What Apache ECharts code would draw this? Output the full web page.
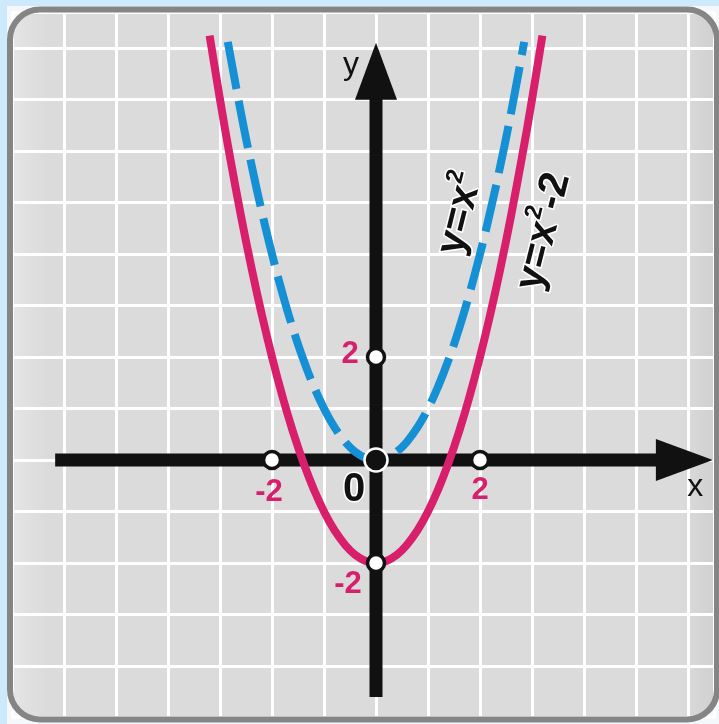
<!DOCTYPE html>
<html>
<head>
<meta charset="utf-8">
<script src="https://cdn.jsdelivr.net/npm/echarts@6/dist/echarts.min.js"></script>
<style>
  html, body { margin: 0; padding: 0; background: #cdeafc; }
  #chart { width: 719px; height: 724px; }
</style>
</head>
<body>
<div id="chart"></div>
<script>
// y = x^2 (dashed blue)
var blueX = [-2.85, -2.6, -2.4, -2.2, -2.0, -1.8, -1.6, -1.4, -1.2, -1.0, -0.8, -0.6, -0.4, -0.2, 0,
             0.2, 0.4, 0.6, 0.8, 1.0, 1.2, 1.4, 1.6, 1.8, 2.0, 2.2, 2.4, 2.6, 2.85];
var blueY = [8.12, 6.76, 5.76, 4.84, 4.0, 3.24, 2.56, 1.96, 1.44, 1.0, 0.64, 0.36, 0.16, 0.04, 0,
             0.04, 0.16, 0.36, 0.64, 1.0, 1.44, 1.96, 2.56, 3.24, 4.0, 4.84, 5.76, 6.76, 8.12];
// y = x^2 - 2 (solid magenta)
var pinkX = [-3.2, -3.0, -2.8, -2.6, -2.4, -2.2, -2.0, -1.8, -1.6, -1.4, -1.2, -1.0, -0.8, -0.6, -0.4, -0.2, 0,
             0.2, 0.4, 0.6, 0.8, 1.0, 1.2, 1.4, 1.6, 1.8, 2.0, 2.2, 2.4, 2.6, 2.8, 3.0, 3.2];
var pinkY = [8.24, 7.0, 5.84, 4.76, 3.76, 2.84, 2.0, 1.24, 0.56, -0.04, -0.56, -1.0, -1.36, -1.64, -1.84, -1.96, -2,
             -1.96, -1.84, -1.64, -1.36, -1.0, -0.56, -0.04, 0.56, 1.24, 2.0, 2.84, 3.76, 4.76, 5.84, 7.0, 8.24];

// axes (drawn as thick lines with arrow heads)
var xAxisEnds = [-6.17, 5.9];
var yAxisEnds = [-4.6, 7.6];
var arrowX = [5.93, 0];
var arrowY = [0, 7.55];

// tick marks on the axes
var tickPoints = [[-2, 0], [2, 0], [0, 2], [0, -2]];
var tickTexts = ['-2', '2', '2', '-2'];
var originText = '0';
var axisNames = ['x', 'y'];
var curveNames = ['y=x\u00B2', 'y=x\u00B2-2'];
var curveRich = ['{b|y=x}{s|2}', '{b|y=x}{s|2}{b|-2}'];
var curveLabelAt = [[1.58, 4.8], [3.18, 4.45]];

var BLUE = '#1590d4';
var PINK = '#d81f6c';

function zip(a, b) {
  return a.map(function (v, i) { return [v, b[i]]; });
}

var chart = echarts.init(document.getElementById('chart'));

var tickOffsets = [[-3, 32], [0, 30], [-26, -3], [-28, 21]];

var option = {
  backgroundColor: '#cdeafc',
  animation: false,
  graphic: [
    { type: 'rect', z: -30, shape: { x: 7, y: 6, width: 720, height: 720 }, style: { fill: '#f4f8fa' } },
    { type: 'rect', z: -20, shape: { x: 10, y: 9.5, width: 707, height: 710, r: 30 },
      style: { fill: new echarts.graphic.LinearGradient(0, 0, 1, 0, [
        { offset: 0, color: '#e6e6e6' }, { offset: 0.05, color: '#dbdbdb' },
        { offset: 0.95, color: '#dbdbdb' }, { offset: 1, color: '#cfcfcf' }]) } },
    { type: 'rect', z: 100, silent: true, shape: { x: 10, y: 9.5, width: 707, height: 710, r: 30 },
      style: { fill: 'none', stroke: '#858585', lineWidth: 6 } }
  ],
  grid: { left: 12, top: 12, width: 702, height: 705.5 },
  xAxis: {
    type: 'value', min: -7, max: 6.5, interval: 1,
    axisLine: { show: false }, axisTick: { show: false }, axisLabel: { show: false },
    splitLine: { lineStyle: { color: '#ffffff', width: 3 } }
  },
  yAxis: {
    type: 'value', min: -5, max: 8.7, interval: 1,
    axisLine: { show: false }, axisTick: { show: false }, axisLabel: { show: false },
    splitLine: { lineStyle: { color: '#ffffff', width: 3 } }
  },
  series: [
    {
      type: 'line', z: 2, symbol: 'none', silent: true,
      data: [[xAxisEnds[0], 0], [xAxisEnds[1], 0]],
      lineStyle: { color: '#111111', width: 13, cap: 'butt' }
    },
    {
      type: 'line', z: 2, symbol: 'none', silent: true,
      data: [[0, yAxisEnds[0]], [0, yAxisEnds[1]]],
      lineStyle: { color: '#111111', width: 13, cap: 'butt' }
    },
    {
      type: 'scatter', z: 2, silent: true, symbol: 'triangle',
      itemStyle: { color: '#111111', opacity: 1 },
      data: [
        { value: [arrowX[0], arrowY[0]], symbolSize: [42, 57], symbolRotate: -90,
          label: { show: true, formatter: axisNames[0], position: 'inside', offset: [11, 27],
                   fontSize: 32, color: '#111', fontFamily: 'Liberation Sans' } },
        { value: [arrowX[1], arrowY[1]], symbolSize: [42, 57],
          label: { show: true, formatter: axisNames[1], position: 'inside', offset: [-25, -6],
                   fontSize: 32, color: '#111', fontFamily: 'Liberation Sans' } }
      ]
    },
    {
      name: curveNames[1], type: 'line', z: 3, symbol: 'none', smooth: true,
      data: zip(pinkX, pinkY),
      lineStyle: { color: PINK, width: 8 }
    },
    {
      name: curveNames[0], type: 'line', z: 3, symbol: 'none', smooth: true,
      data: zip(blueX, blueY),
      lineStyle: { color: BLUE, width: 8, type: [48, 12], cap: 'butt' }
    },
    {
      type: 'scatter', z: 4, silent: true, symbol: 'circle', symbolSize: 17,
      itemStyle: { color: '#ffffff', borderColor: '#111111', borderWidth: 3.5, opacity: 1 },
      data: tickPoints.map(function (p, i) {
        return {
          value: p,
          label: {
            show: true, formatter: tickTexts[i], position: 'inside',
            offset: tickOffsets[i], fontSize: 31, fontWeight: 'bold',
            fontFamily: 'Liberation Sans', color: PINK
          }
        };
      })
    },
    {
      type: 'scatter', z: 5, silent: true, symbol: 'circle', symbolSize: 23,
      itemStyle: { color: '#111111', borderColor: '#ffffff', borderWidth: 2.5, opacity: 1 },
      data: [{
        value: [0, 0],
        label: {
          show: true, formatter: originText, position: 'inside', offset: [-22, 30],
          fontSize: 40, fontWeight: 'bold', fontFamily: 'Liberation Sans', color: '#111',
          textBorderColor: '#ffffff', textBorderWidth: 3
        }
      }]
    },
    {
      type: 'scatter', z: 6, silent: true, symbolSize: 0,
      itemStyle: { opacity: 1 },
      data: curveLabelAt.map(function (p, i) {
        return {
          value: p,
          label: {
            show: true, formatter: curveRich[i], position: 'inside', rotate: 76,
            textBorderColor: '#ffffff', textBorderWidth: 3,
            rich: {
              b: { fontSize: 41, fontWeight: 'bold', fontFamily: 'Liberation Sans', color: '#111',
                   textBorderColor: '#ffffff', textBorderWidth: 3, verticalAlign: 'bottom', lineHeight: 46 },
              s: { fontSize: 24, fontWeight: 'bold', fontFamily: 'Liberation Sans', color: '#111',
                   textBorderColor: '#ffffff', textBorderWidth: 3, verticalAlign: 'top', lineHeight: 46 }
            }
          }
        };
      })
    }
  ]
};

chart.setOption(option);
</script>
</body>
</html>
